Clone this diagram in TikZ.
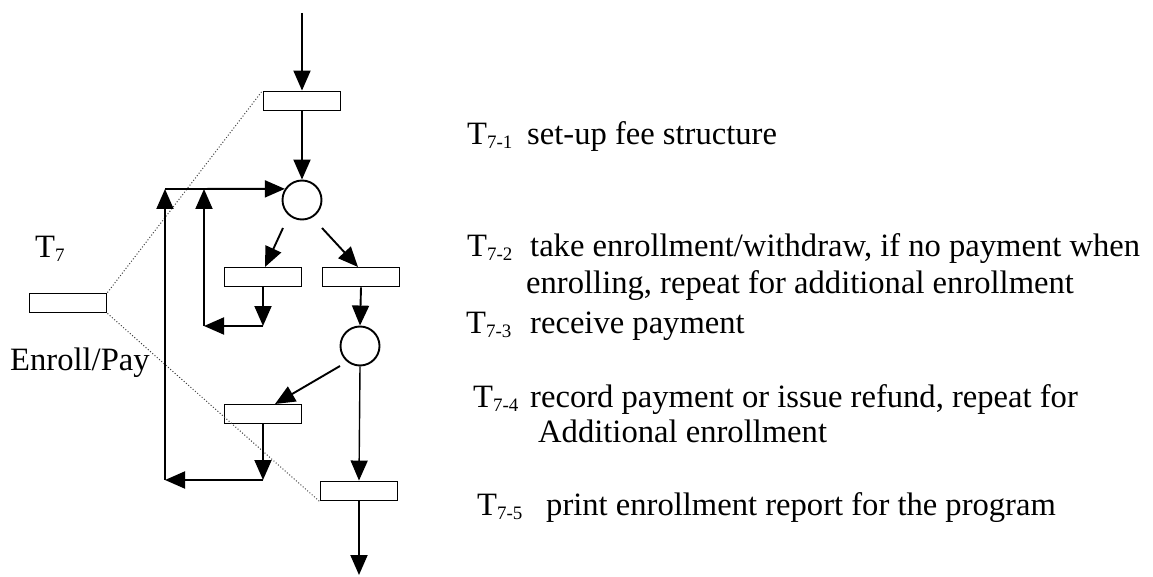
\documentclass[tikz,border=0pt]{standalone}
\usepackage{fontspec}
\setmainfont{Liberation Serif}
\usetikzlibrary{arrows.meta}
\newcommand\TransLabel[1]{T\raisebox{-4pt}{\fontsize{19}{19}\selectfont #1}}
\begin{document}
\begin{tikzpicture}[x=1pt,y=-1pt,
  trans/.style={draw, line width=1.9pt, minimum width=77pt, minimum height=19pt, inner sep=0pt, fill=white},
  place/.style={draw, circle, line width=1.9pt, minimum size=39pt, inner sep=0pt, fill=white},
  arc/.style={line width=1.9pt, -{Triangle[length=20pt,width=17pt]}},
  link/.style={line width=1pt, dotted, black!75},
  lbl/.style={font=\fontsize{32.6}{36}\selectfont, inner sep=0pt, anchor=base west},
]
\useasboundingbox (0,0) rectangle (1153,577);

% expanded view of T7 (dotted guide lines)
\node[trans] (t7) at (68,303) {};

% transitions and places
\node[trans] (t71) at (302,101) {};
\node[place] (c1) at (302,200) {};
\node[trans] (t72) at (263,277) {};
\node[trans] (t73) at (361,277) {};
\node[place] (c2) at (360,346) {};
\node[trans] (t74) at (263,414) {};
\node[trans] (t75) at (359,491) {};

\draw[link] (t7.north east) -- (t71.north west);
\draw[link] (t7.south east) -- (t75.south west);
\node[trans, fill=none] at (t71) {};
\node[trans, fill=none] at (t75) {};

% free ends and corners
\coordinate (in) at (302,13);
\coordinate (out) at (359,575);
\coordinate (a1) at (263,480);
\coordinate (a2) at (165,480);
\coordinate (a3) at (165,189);
\coordinate (b1) at (263,326);
\coordinate (b2) at (204,326);
\coordinate (b3) at (204,189);
\coordinate (s1) at (283,228);
\coordinate (e1) at (265,267);
\coordinate (s2) at (322,228);
\coordinate (e2) at (358,267);
\coordinate (s3) at (340,366);
\coordinate (e3) at (275,404);

% arcs
\draw[arc] (in) -- (t71.north);
\draw[arc] (t71.south) -- (c1.north);
\draw[arc] (s1) -- (e1);
\draw[arc] (s2) -- (e2);
\draw[arc] (t73.south) -- (c2.north);
\draw[arc] (s3) -- (e3);
\draw[arc, line width=1.4pt] (c2.south) -- (t75.north);
\draw[arc] (t75.south) -- (out);

% repeat loop after T7-2
\draw[arc] (t72.south) -- (b1);
\draw[arc] (b1) -- (b2);
\draw[arc] (b2) -- (b3);

% repeat loop after T7-4
\draw[arc] (t74.south) -- (a1);
\draw[arc] (a1) -- (a2);
\draw[arc] (a2) -- (a3);
\draw[arc] (a3) -- (c1.147);

% labels
\node[lbl] (l7) at (35,258) {\TransLabel{7}};
\node[lbl] (lep) at (10,370) {Enroll/Pay};

\node[lbl] (n1) at (467,145) {\TransLabel{7-1}};
\node[lbl] (d1) at (527,145) {set-up fee structure};
\node[lbl] (n2) at (467,257) {\TransLabel{7-2}};
\node[lbl] (d2) at (530,257) {take enrollment/withdraw, if no payment when};
\node[lbl] (d2b) at (526,293) {enrolling, repeat for additional enrollment};
\node[lbl] (n3) at (466,333) {\TransLabel{7-3}};
\node[lbl] (d3) at (530,333) {receive payment};
\node[lbl] (n4) at (473,407) {\TransLabel{7-4}};
\node[lbl] (d4) at (530,407) {record payment or issue refund, repeat for};
\node[lbl] (d4b) at (538,442) {Additional enrollment};
\node[lbl] (n5) at (477,515) {\TransLabel{7-5}};
\node[lbl] (d5) at (546,515) {print enrollment report for the program};
\end{tikzpicture}
\end{document}
